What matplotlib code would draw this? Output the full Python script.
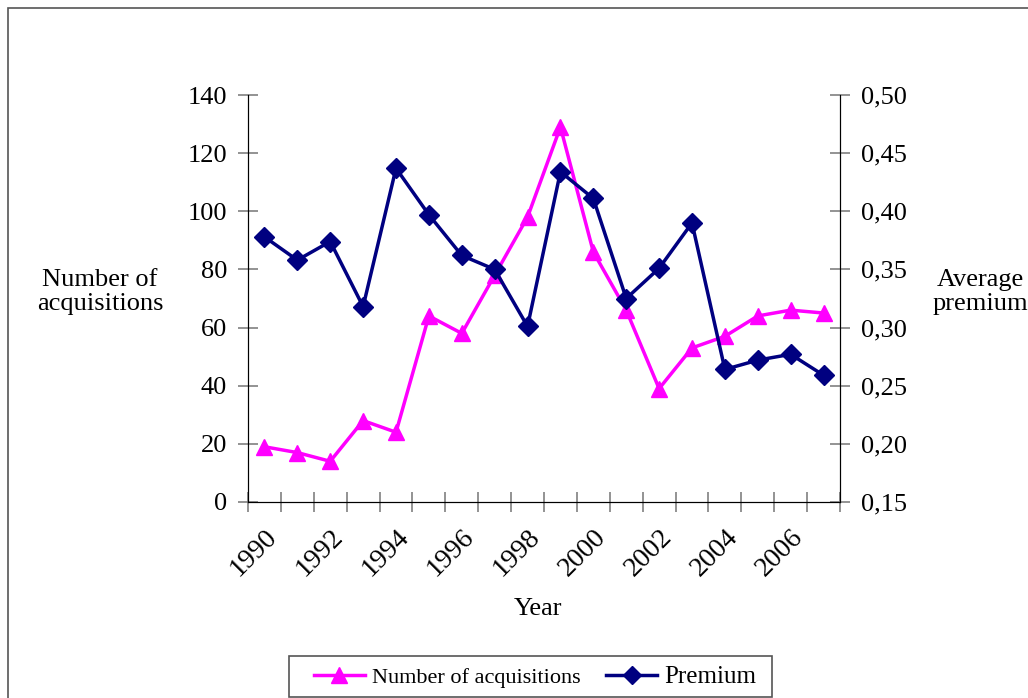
import numpy as np
from matplotlib import pyplot as plt
from matplotlib import ticker
from matplotlib.lines import Line2D
from matplotlib.patches import Rectangle

plt.rcParams.update({
    "font.family": "Liberation Serif",
    "font.size": 19,
})

years = list(range(1990, 2008))
acquisitions = [19, 17, 14, 28, 24, 64, 58, 78, 98, 129, 86, 66, 39, 53, 57, 64, 66, 65]
premium = [0.378, 0.358, 0.374, 0.318, 0.437, 0.397, 0.362, 0.350, 0.301, 0.434,
           0.411, 0.325, 0.351, 0.390, 0.264, 0.272, 0.277, 0.259]
year_labels = [str(y) if (y - 1990) % 2 == 0 else "" for y in years]

pink = "#ff00ff"
navy = "#000080"
tick_gray = "#808080"

fig = plt.figure(figsize=(10.28, 6.98), dpi=100)
ax = fig.add_axes([248 / 1028, 1 - 502 / 698, 592 / 1028, 407 / 698])
ax2 = ax.twinx()

x = np.arange(len(years))
ax.plot(x, acquisitions, color=pink, lw=2.5, marker="^", ms=12, zorder=3)
ax2.plot(x, premium, color=navy, lw=2.5, marker="D", ms=10, zorder=3)

ax.set_xlim(-0.5, len(years) - 0.5)
ax.set_ylim(0, 140)
ax2.set_ylim(0.15, 0.50)
ax.set_yticks(np.arange(0, 141, 20))
ax2.set_yticks(np.arange(0.15, 0.501, 0.05))
ax2.yaxis.set_major_formatter(ticker.FuncFormatter(lambda v, p: f"{v:.2f}".replace(".", ",")))

ax.set_xticks(x[::2])
ax.set_xticklabels(year_labels[::2], rotation=45, ha="right", va="top", rotation_mode="anchor")
ax.set_xticks(np.arange(-0.5, len(years), 1), minor=True)
ax.tick_params(axis="x", which="major", length=0, pad=16, labelsize=20)
ax.tick_params(axis="x", which="minor", length=14, direction="inout", color=tick_gray, width=1.2)
ax.tick_params(axis="y", length=14, direction="inout", color=tick_gray, width=1.2, labelsize=19, pad=8)
ax2.tick_params(axis="y", length=14, direction="inout", color=tick_gray, width=1.2, labelsize=19, pad=8)

for a in (ax, ax2):
    a.spines["top"].set_visible(False)
    a.patch.set_visible(False)
ax2.spines["right"].set_visible(True)

fig.text(100 / 1028, 1 - 292 / 698, "Number of\nacquisitions", ha="center", va="center",
         fontsize=19, linespacing=1.15)
fig.text(980 / 1028, 1 - 292 / 698, "Average\npremium", ha="center", va="center",
         fontsize=19, linespacing=1.15)
fig.text(538 / 1028, 1 - 609 / 698, "Year", ha="center", va="center", fontsize=19)

handles = [
    Line2D([], [], color=pink, lw=2.5, marker="^", ms=11),
    Line2D([], [], color=navy, lw=2.5, marker="D", ms=9),
]
leg = fig.legend(handles, ["Number of acquisitions", "Premium"], loc="center",
                 bbox_to_anchor=(535 / 1028, 1 - 677 / 698), ncol=2, fontsize=16,
                 frameon=False, handlelength=2.3, columnspacing=1.17,
                 handletextpad=0.3, borderpad=0.2)
leg.get_texts()[1].set_fontsize(18)

fig.patches.append(Rectangle((289 / 1028, 1 - 697 / 698), 483 / 1028, 41 / 698,
                             transform=fig.transFigure, fill=False,
                             edgecolor="#555555", lw=1.2))
fig.patches.append(Rectangle((8 / 1028, -0.05), 1.5, 1.05 - 8 / 698, transform=fig.transFigure,
                             fill=False, edgecolor="#555555", lw=1.2))

fig.savefig("out.png", dpi=100)
